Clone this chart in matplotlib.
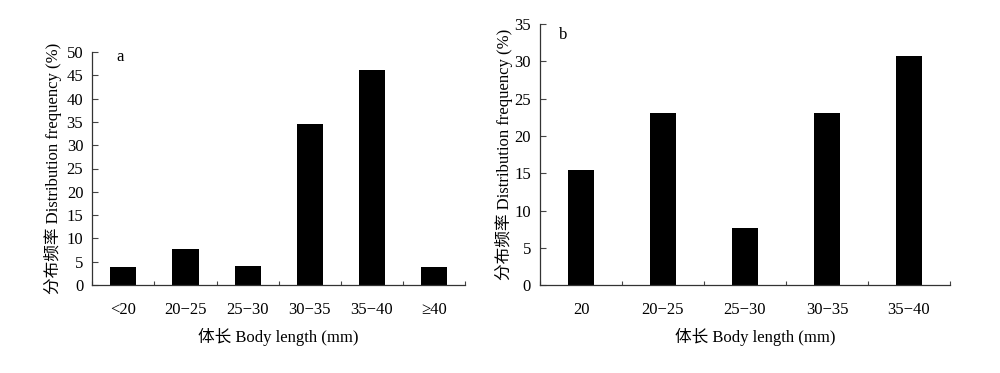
import matplotlib
matplotlib.use("Agg")
import matplotlib.pyplot as plt
import numpy as np

plt.rcParams['font.family'] = ['Liberation Serif', 'Noto Sans CJK SC']
plt.rcParams['axes.unicode_minus'] = False

cats_a = ['<20', '20−25', '25−30', '30−35', '35−40', '≥40']
vals_a = [3.85, 7.69, 4.1, 34.6, 46.2, 3.85]
cats_b = ['20', '20−25', '25−30', '30−35', '35−40']
vals_b = [15.38, 23.08, 7.69, 23.08, 30.77]

ylabel = '分布频率 Distribution frequency (%)'
xlabel = '体长 Body length (mm)'

fig = plt.figure(figsize=(10, 3.73), dpi=100)
W, H = 1000, 373
axA = fig.add_axes([92.3/W, 1-285/H, (465-92.3)/W, (285-52)/H])
axB = fig.add_axes([540/W, 1-285.3/H, (950-540)/W, (285.3-24)/H])

def style(ax, cats, vals, ymax, width, letter, lx, ly, ylc, xlc):
    x = np.arange(len(cats))
    ax.bar(x, vals, width=width, color='black')
    ax.set_xlim(-0.5, len(cats)-0.5)
    ax.set_ylim(0, ymax)
    ax.set_yticks(np.arange(0, ymax+1, 5))
    ax.set_xticks(np.arange(-0.5, len(cats)), minor=False)
    ax.set_xticklabels([])
    ax.set_xticks(x, minor=True)
    ax.set_xticklabels(cats, minor=True)
    ax.tick_params(axis='x', which='major', direction='in', length=3, width=0.8, color='#444444')
    ax.tick_params(axis='x', which='minor', length=0, pad=12, labelsize=12)
    ax.tick_params(axis='y', direction='in', length=4, width=0.8, labelsize=12, pad=6.5, color='#444444')
    for s in ['top', 'right']:
        ax.spines[s].set_visible(False)
    for s in ['left', 'bottom']:
        ax.spines[s].set_linewidth(0.9)
        ax.spines[s].set_color('#333333')
    ax.set_xlabel(xlabel, fontsize=12)
    ax.set_ylabel(ylabel, fontsize=12)
    ax.yaxis.set_label_coords(ylc, 0.5)
    ax.xaxis.set_label_coords(xlc[0], xlc[1])
    ax.text(lx, ly, letter, transform=ax.transAxes, fontsize=12, va='center', ha='left')

style(axA, cats_a, vals_a, 50, 0.42, 'a', (116-92.3)/(465-92.3), 1-(57-52)/(285-52),
      -0.081, (0.5, -0.185))
style(axB, cats_b, vals_b, 35, 0.32, 'b', (559-540)/410, 1-(35-24)/(285.3-24),
      -0.066, (0.524, -0.163))

fig.savefig('out.png', dpi=100)
